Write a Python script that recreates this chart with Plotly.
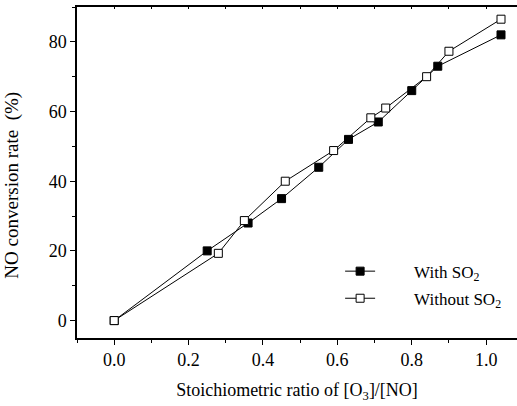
import plotly.graph_objects as go

x_with = [0.0, 0.25, 0.36, 0.45, 0.55, 0.63, 0.71, 0.80, 0.87, 1.04]
y_with = [0.0, 20.0, 28.0, 35.0, 44.0, 52.0, 57.0, 66.0, 73.0, 82.0]
x_without = [0.0, 0.28, 0.35, 0.46, 0.59, 0.69, 0.73, 0.84, 0.90, 1.04]
y_without = [0.0, 19.3, 28.7, 40.0, 48.8, 58.2, 61.0, 70.0, 77.3, 86.5]

font = "Liberation Serif, Times New Roman, DejaVu Serif, serif"
pad = "&nbsp;" * 8

fig = go.Figure()
fig.add_trace(go.Scatter(
    x=x_with, y=y_with, mode="lines+markers", name=pad + "With SO<sub>2</sub>",
    line=dict(color="black", width=1),
    marker=dict(symbol="square", size=8, color="black", line=dict(color="black", width=1)),
    legendgroup="a"))
fig.add_trace(go.Scatter(
    x=x_without, y=y_without, mode="lines+markers", name=pad + "Without SO<sub>2</sub>",
    line=dict(color="black", width=1),
    marker=dict(symbol="square", size=8, color="white", line=dict(color="black", width=1)),
    legendgroup="b"))
fig.add_trace(go.Scatter(x=[0], y=[0], xaxis="x2", mode="markers",
                         marker=dict(opacity=0), showlegend=False, hoverinfo="skip"))

fig.update_layout(
    width=517, height=406,
    margin=dict(l=77, r=0, t=7, b=68, autoexpand=False),
    paper_bgcolor="white", plot_bgcolor="white",
    font=dict(family=font, color="black"),
    showlegend=True,
    legend=dict(x=0.598, y=0.255, xanchor="left", yanchor="top",
                font=dict(family=font, size=17, color="black"),
                bgcolor="rgba(0,0,0,0)", tracegroupgap=2, traceorder="grouped"),
    xaxis=dict(range=[-0.1, 1.083], showgrid=False, zeroline=False,
               showline=True, linecolor="black", linewidth=1.5,
               ticks="outside", ticklen=5, tickwidth=1, tickcolor="black",
               tick0=0, dtick=0.2, tickformat=".1f",
               tickfont=dict(family=font, size=18, color="black"),
               minor=dict(ticks="outside", ticklen=3, dtick=0.1, tick0=0, tickcolor="black"),
               title=dict(text="Stoichiometric ratio of [O<sub>3</sub>]/[NO]",
                          font=dict(family=font, size=18, color="black"), standoff=14)),
    xaxis2=dict(range=[-0.1, 1.083], overlaying="x", side="top", showgrid=False,
                zeroline=False, showline=True, linecolor="black", linewidth=1.5,
                ticks="inside", ticklen=2, dtick=0.1, tick0=0, tickcolor="black",
                showticklabels=False),
    yaxis=dict(range=[-5, 90], showgrid=False, zeroline=False,
               showline=True, linecolor="black", linewidth=1.5,
               ticks="outside", ticklen=5, tickwidth=1, tickcolor="black",
               tick0=0, dtick=20,
               tickfont=dict(family=font, size=18, color="black"),
               minor=dict(ticks="outside", ticklen=3, dtick=10, tick0=0, tickcolor="black")),
    annotations=[dict(text="NO conversion rate  (%)", textangle=-90,
                      xref="paper", yref="paper", x=-0.148, y=0.463,
                      xanchor="center", yanchor="middle", showarrow=False,
                      font=dict(family=font, size=19, color="black"))],
)

fig.write_html("out.html")
